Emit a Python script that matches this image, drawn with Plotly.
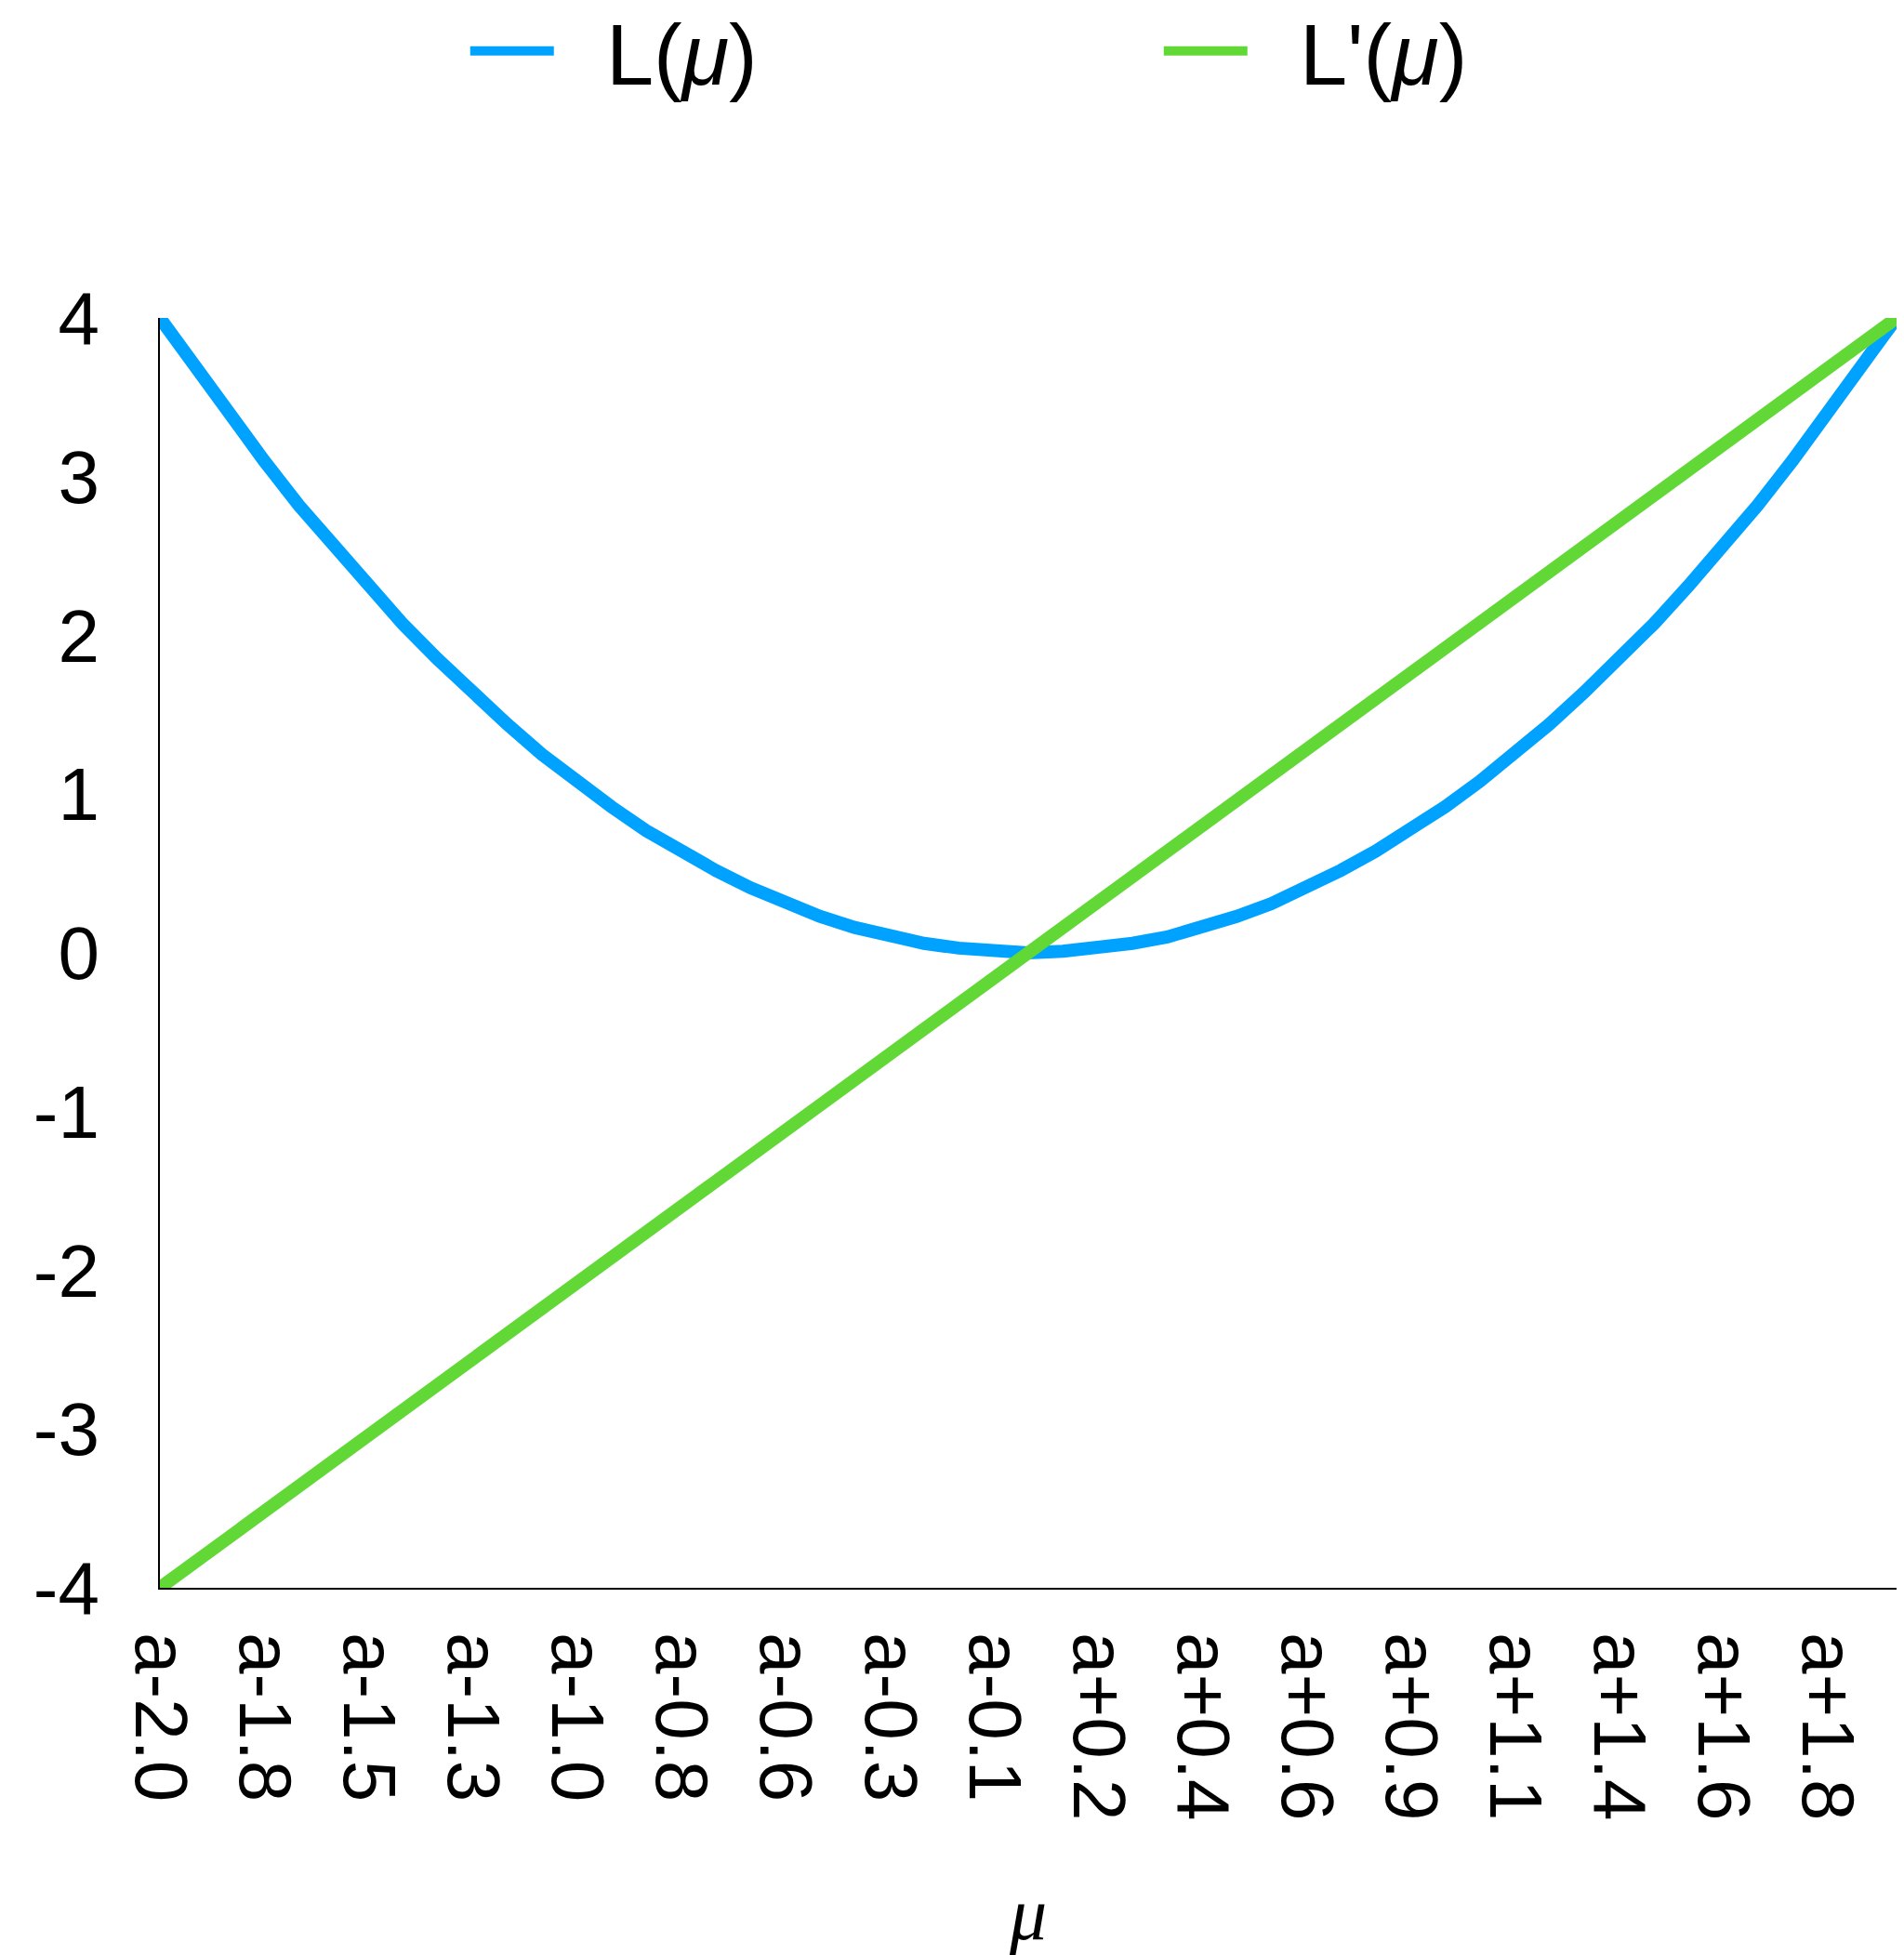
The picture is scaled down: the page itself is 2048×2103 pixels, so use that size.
import plotly.graph_objects as go

mu = [-2.00, -1.92, -1.84, -1.76, -1.68, -1.60, -1.52, -1.44, -1.36, -1.28,
      -1.20, -1.12, -1.04, -0.96, -0.88, -0.80, -0.72, -0.64, -0.56, -0.48,
      -0.40, -0.32, -0.24, -0.16, -0.08, 0.00, 0.08, 0.16, 0.24, 0.32,
      0.40, 0.48, 0.56, 0.64, 0.72, 0.80, 0.88, 0.96, 1.04, 1.12,
      1.20, 1.28, 1.36, 1.44, 1.52, 1.60, 1.68, 1.76, 1.84, 1.92, 2.00]

L_vals = [4.00, 3.69, 3.39, 3.10, 2.82, 2.56, 2.31, 2.07, 1.85, 1.64,
          1.44, 1.25, 1.08, 0.92, 0.77, 0.64, 0.52, 0.41, 0.31, 0.23,
          0.16, 0.10, 0.06, 0.03, 0.01, 0.00, 0.01, 0.03, 0.06, 0.10,
          0.16, 0.23, 0.31, 0.41, 0.52, 0.64, 0.77, 0.92, 1.08, 1.25,
          1.44, 1.64, 1.85, 2.07, 2.31, 2.56, 2.82, 3.10, 3.39, 3.69, 4.00]

Lp_vals = [-4.00, -3.84, -3.68, -3.52, -3.36, -3.20, -3.04, -2.88, -2.72, -2.56,
           -2.40, -2.24, -2.08, -1.92, -1.76, -1.60, -1.44, -1.28, -1.12, -0.96,
           -0.80, -0.64, -0.48, -0.32, -0.16, 0.00, 0.16, 0.32, 0.48, 0.64,
           0.80, 0.96, 1.12, 1.28, 1.44, 1.60, 1.76, 1.92, 2.08, 2.24,
           2.40, 2.56, 2.72, 2.88, 3.04, 3.20, 3.36, 3.52, 3.68, 3.84, 4.00]

x_tick_labels = ["a-2.0", "a-1.8", "a-1.5", "a-1.3", "a-1.0", "a-0.8", "a-0.6",
                 "a-0.3", "a-0.1", "a+0.2", "a+0.4", "a+0.6", "a+0.9", "a+1.1",
                 "a+1.4", "a+1.6", "a+1.8"]
y_tick_vals = [-4, -3, -2, -1, 0, 1, 2, 3, 4]
y_tick_labels = ["-4", "-3", "-2", "-1", "0", "1", "2", "3", "4"]

BLUE = "#00A2FF"
GREEN = "#61D836"
FONT = "Liberation Sans, Arial, Helvetica, sans-serif"
PAD = "\u00a0\u00a0"

fig = go.Figure()
fig.add_trace(go.Scatter(x=mu, y=L_vals, mode="lines", name=PAD + "L(<i>μ</i>)",
                         line=dict(color=BLUE, width=14), cliponaxis=False,
                         legendrank=1))
fig.add_trace(go.Scatter(x=mu, y=Lp_vals, mode="lines", name=PAD + "L'(<i>μ</i>)",
                         line=dict(color=GREEN, width=14), cliponaxis=False,
                         legendrank=2))

# the page body adds an 8px offset, so the figure is 8px smaller on each axis
fig.update_layout(
    width=2040, height=2095,
    margin=dict(l=164, r=8, t=334, b=395, autoexpand=False),
    paper_bgcolor="white", plot_bgcolor="white",
    font=dict(family=FONT, color="black", size=79),
    showlegend=True,
    legend=dict(orientation="h", yref="container", y=0.9776, yanchor="middle",
                xref="paper", x=0.176, xanchor="left",
                font=dict(size=92, family=FONT),
                itemwidth=90, entrywidth=641, entrywidthmode="pixels",
                bgcolor="rgba(0,0,0,0)", traceorder="normal"),
    xaxis=dict(range=[-2, 2], showgrid=False, zeroline=False, showline=True,
               linecolor="black", linewidth=2, ticks="",
               tickmode="array", tickvals=mu[::3], ticktext=x_tick_labels,
               tickangle=90, ticklabelstandoff=30,
               tickfont=dict(size=80, family=FONT),
               title=dict(text="μ", standoff=93,
                          font=dict(size=80, family="Liberation Serif, Times New Roman, serif",
                                    style="italic"))),
    yaxis=dict(range=[-4, 4], showgrid=False, zeroline=False, showline=True,
               linecolor="black", linewidth=2, ticks="",
               tickmode="array", tickvals=y_tick_vals, ticktext=y_tick_labels,
               ticklabelstandoff=47,
               tickfont=dict(size=80, family=FONT)),
)

fig.write_html("out.html")
